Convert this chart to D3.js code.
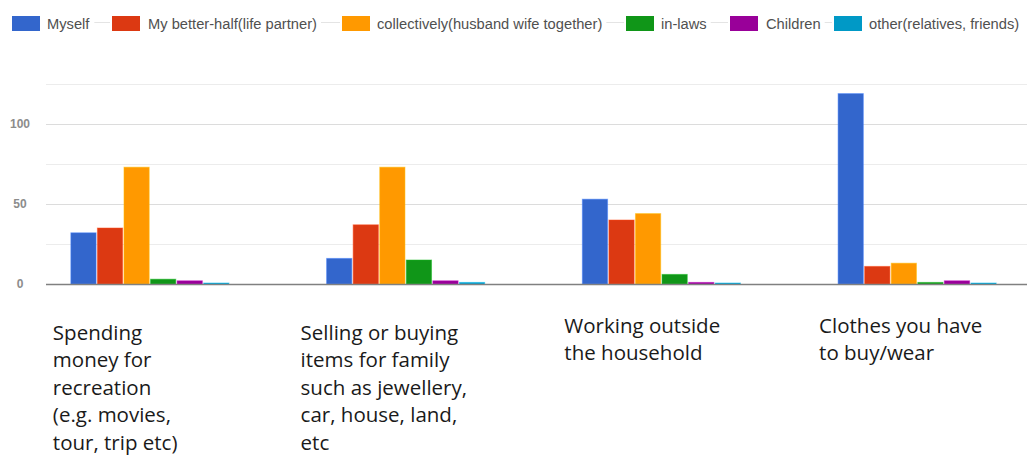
<!DOCTYPE html>
<html>
<head>
<meta charset="utf-8">
<script src="https://cdn.jsdelivr.net/npm/d3@7"></script>
<style>
  html, body { margin: 0; padding: 0; background: #fff; }
  svg { display: block; }
</style>
</head>
<body>
<svg id="chart" width="1027" height="457"></svg>
<script>
// Who takes the decision, per topic
const categories = ["recreation", "familyItems", "workOutside", "clothes"];
const categoryLines = [
  ["Spending", "money for", "recreation", "(e.g. movies,", "tour, trip etc)"],
  ["Selling or buying", "items for family", "such as jewellery,", "car, house, land,", "etc"],
  ["Working outside", "the household"],
  ["Clothes you have", "to buy/wear"]
];
const seriesNames = [
  "Myself",
  "My better-half(life partner)",
  "collectively(husband wife together)",
  "in-laws",
  "Children",
  "other(relatives, friends)"
];
const myself     = [32, 16, 53, 119];
const partner    = [35, 37, 40, 11];
const collective = [73, 73, 44, 13];
const inLaws     = [3, 15, 6, 1];
const children   = [2, 2, 1, 2];
const others     = [0, 1, 0, 0];
const seriesValues = [myself, partner, collective, inLaws, children, others];
const yTicks = [0, 50, 100];
const yGrid = [25, 50, 75, 100, 125];

const colors = ["#3366cc", "#dc3912", "#ff9900", "#109618", "#990099", "#0099c6"];

const svg = d3.select("#chart");

// scales
const x0 = d3.scaleBand().domain(categories).range([22, 1045])
  .paddingInner(0.382).paddingOuter(0.191);
const x1 = d3.scaleBand().domain(d3.range(seriesNames.length))
  .range([0, x0.bandwidth()]).paddingInner(0.05).paddingOuter(0);
const y = d3.scaleLinear().domain([0, 125]).range([284, 84]);

const plotLeft = 46, plotRight = 1027;

// gridlines
svg.append("g").selectAll("line").data(yGrid).join("line")
  .attr("x1", plotLeft).attr("x2", plotRight)
  .attr("y1", d => Math.round(y(d)) + 0.5).attr("y2", d => Math.round(y(d)) + 0.5)
  .attr("stroke", d => d % 50 === 0 ? "#dcdcdc" : "#ececec")
  .attr("stroke-width", 1.2);

// y tick labels
svg.append("g").selectAll("text").data(yTicks).join("text")
  .attr("x", 20).attr("y", d => y(d) + 4)
  .attr("text-anchor", "middle")
  .attr("font-family", "Liberation Sans, Arial, sans-serif")
  .attr("font-size", 12).attr("font-weight", "bold")
  .attr("fill", "#8c8c8c")
  .text(d => d);

// bars
const groups = svg.append("g").selectAll("g").data(categories).join("g")
  .attr("transform", c => `translate(${x0(c)},0)`);

groups.selectAll("rect")
  .data((c, ci) => seriesValues.map((vals, si) => ({ si, v: vals[ci] })))
  .join("rect")
  .attr("x", d => x1(d.si))
  .attr("width", x1.bandwidth())
  .attr("y", d => Math.min(y(d.v), y(0) - 1))
  .attr("height", d => Math.max(y(0) - y(d.v), 1))
  .attr("fill", d => colors[d.si])
  .attr("stroke", d => d3.color(colors[d.si]).brighter(0.6))
  .attr("stroke-opacity", 0.5)
  .attr("stroke-width", 1);

// baseline
svg.append("line")
  .attr("x1", plotLeft).attr("x2", plotRight)
  .attr("y1", y(0) + 0.5).attr("y2", y(0) + 0.5)
  .attr("stroke", "#808080").attr("stroke-width", 1.3);

// legend
const legendX = [12, 112, 342, 626, 730, 834];
const legendTextX = [47, 148, 377, 661, 766, 869];
const legend = svg.append("g");
const legendTexts = [];
seriesNames.forEach((name, i) => {
  legend.append("rect")
    .attr("x", legendX[i]).attr("y", 16).attr("width", 28).attr("height", 15)
    .attr("fill", colors[i]);
  const t = legend.append("text")
    .attr("x", legendTextX[i]).attr("y", 29)
    .attr("font-family", "Liberation Sans, Arial, sans-serif")
    .attr("font-size", 14.7).attr("fill", "#505050")
    .text(name);
  legendTexts.push(t);
});
// faint connector lines between legend entries
legendTexts.forEach((t, i) => {
  if (i === legendTexts.length - 1) return;
  const bb = t.node().getBBox();
  legend.insert("line", ":first-child")
    .attr("x1", bb.x + bb.width + 4).attr("x2", legendX[i + 1] - 2)
    .attr("y1", 22.5).attr("y2", 22.5)
    .attr("stroke", "#e4e4e4").attr("stroke-width", 1);
});

// category labels below the axis
const labelOffset = [-18, -26, -18, -19];
const labelTop = [340, 340, 333, 333];
categories.forEach((c, i) => {
  const t = svg.append("text")
    .attr("font-family", "Open Sans, sans-serif")
    .attr("font-size", 20.5).attr("fill", "#1a1a1a");
  t.selectAll("tspan").data(categoryLines[i]).join("tspan")
    .attr("x", x0(c) + labelOffset[i])
    .attr("y", (d, j) => labelTop[i] + j * 27.4)
    .text(d => d);
});
</script>
</body>
</html>
